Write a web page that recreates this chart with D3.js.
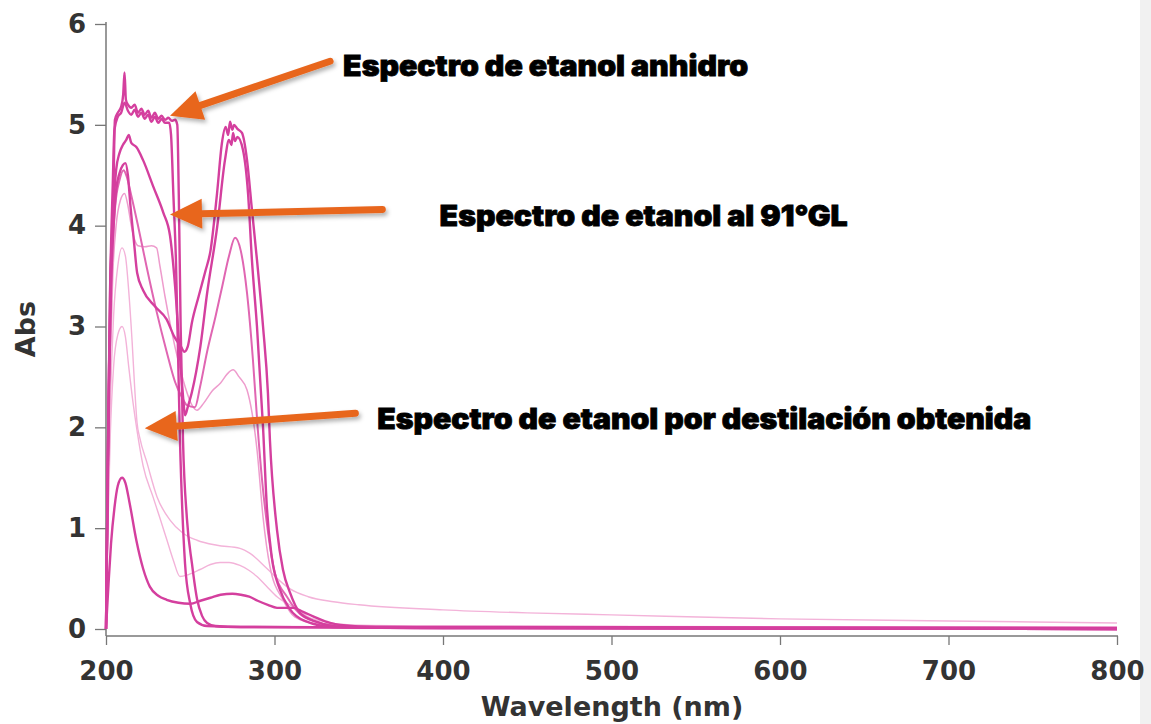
<!DOCTYPE html>
<html><head><meta charset="utf-8">
<script src="https://cdn.jsdelivr.net/npm/d3@7"></script>
<style>
html,body{margin:0;padding:0;background:#fff;}
svg{display:block;}
</style></head><body>
<svg id="chart" width="1151" height="724"></svg>
<script>
// ---------- data ----------
const xTicks = [200, 300, 400, 500, 600, 700, 800];
const yTicks = [0, 1, 2, 3, 4, 5, 6];
const xTitle = "Wavelength (nm)";
const yTitle = "Abs";

// [wavelength nm, absorbance]
const anhidroA = [[200,0],[201,1.6],[202.4,3.36],[204.2,4.15],[205.3,5.05],[207,5.12],[209,5.18],[210.2,5.3],[211,5.52],[211.8,5.25],[213,5.2],[215,5.17],[217,5.2],[219,5.12],[221,5.16],[223,5.1],[225,5.14],[227,5.07],[229,5.12],[231,5.06],[233,5.09],[235,5.05],[237,5.07],[239,5.04],[241,5.05],[242.3,5.0],[243.2,4.3],[244.3,3.0],[245.7,1.87],[248,1.1],[251,0.65],[254,0.3],[257,0.13],[260,0.06],[265,0.03],[280,0.02],[400,0.015],[800,0.0]];
const anhidroB = [[200,0],[201.2,1.8],[202.6,3.5],[204,4.4],[205,4.95],[207,5.08],[209,5.12],[211,5.22],[213,5.14],[215,5.1],[217,5.15],[219,5.08],[221,5.12],[223,5.06],[225,5.1],[227,5.03],[229,5.08],[231,5.02],[233,5.06],[235,5.02],[237.5,5.02],[238.6,4.9],[240,4.3],[241.5,3.66],[243.9,1.87],[246.9,0.65],[250,0.25],[254,0.07],[260,0.03],[280,0.02],[400,0.01],[800,0.0]];
const etanol91a = [[200,0],[200.8,1.2],[201.8,2.6],[203,3.6],[204.5,4.2],[206,4.55],[208,4.72],[210,4.8],[212,4.85],[213.5,4.9],[215,4.82],[218,4.78],[222,4.65],[228,4.39],[234,4.13],[238,3.9],[241,3.4],[243.5,2.8],[245.5,2.35],[247,2.12],[248.5,2.2],[251,2.35],[253.5,2.55],[256,2.8],[260,3.33],[266,3.99],[270.6,4.65],[273,4.85],[274.5,4.8],[275.4,4.92],[276.5,4.84],[278,4.88],[281.3,4.75],[284.3,4.32],[286.6,3.66],[289.6,3.0],[293.2,2.0],[295.5,1.2],[298.5,0.7],[303,0.4],[309,0.2],[318,0.08],[335,0.02],[400,0.01],[800,0.0]];
const etanol91b = [[200,0],[200.8,1.1],[201.8,2.4],[203,3.4],[204.5,4.0],[206,4.35],[208,4.52],[210,4.6],[211.5,4.62],[213,4.5],[214.5,4.2],[216.5,3.86],[218.5,3.53],[222,3.36],[229,3.2],[236,3.07],[240.5,2.9],[244.5,2.8],[246.5,2.75],[248.5,2.8],[251,3.04],[255,3.3],[259,3.55],[262,3.75],[265.9,4.32],[268.8,4.82],[271,4.98],[272.5,4.9],[273.6,5.03],[275,4.95],[276,5.0],[278,4.96],[280.7,4.92],[283.7,4.65],[286.6,4.16],[289.6,3.66],[293.2,3.0],[296.1,2.34],[297.3,1.87],[301.5,0.98],[305,0.59],[309.2,0.36],[315.1,0.16],[325.2,0.07],[340,0.02],[400,0.01],[800,0.0]];
const etanol91c = [[200,0],[201,1.3],[202,2.7],[203.5,3.6],[205.5,4.2],[208,4.45],[210.5,4.55],[212,4.5],[215,4.3],[219,4.0],[224,3.6],[230,3.15],[236,2.75],[241,2.45],[245,2.3],[248,2.22],[252.8,2.2],[255.8,2.4],[260,2.75],[265,3.1],[269,3.4],[273,3.7],[276.6,3.88],[280,3.75],[283.7,3.33],[287.2,2.67],[290,2.0],[292.6,1.48],[296,0.98],[300.3,0.55],[307.4,0.32],[315,0.15],[325,0.07],[340,0.03],[400,0.02],[800,0.01]];
const destilA = [[200,0],[201,1.2],[202.5,2.6],[204,3.5],[206,4.0],[208.5,4.25],[211,4.32],[213,4.2],[215,4.0],[217,3.86],[219,3.8],[223,3.79],[227,3.8],[230,3.78],[232,3.6],[235,3.3],[239,2.95],[243,2.65],[247,2.4],[251,2.22],[254,2.17],[258,2.24],[263,2.36],[268,2.44],[272,2.53],[275.4,2.57],[279,2.5],[283.7,2.37],[289.6,1.78],[293.2,1.11],[297.3,0.62],[305,0.29],[312,0.12],[325,0.05],[345,0.03],[400,0.02],[800,0.01]];
const destilB = [[200,0],[201,1.0],[202.5,2.2],[204.5,3.1],[207,3.6],[209.5,3.78],[211.5,3.7],[213.5,3.35],[215.5,2.85],[217,2.4],[218.4,2.05],[220,1.9],[224.3,1.65],[230.3,1.31],[238,1.08],[245.7,0.95],[254,0.88],[265.9,0.83],[279.5,0.8],[285.5,0.75],[295.5,0.6],[303,0.48],[309,0.4],[320,0.32],[335,0.27],[350,0.24],[400,0.19],[450,0.16],[500,0.14],[600,0.1],[700,0.08],[800,0.06]];
const destilC = [[200,0],[201,0.9],[202.5,1.9],[204.5,2.6],[207,2.92],[209.5,3.0],[211.5,2.9],[213.5,2.6],[216,2.25],[218.4,1.97],[222,1.62],[227.9,1.31],[232,1.1],[236.2,0.88],[240,0.68],[243.9,0.52],[249,0.54],[255.8,0.59],[262,0.64],[267.7,0.66],[273,0.66],[279.5,0.63],[285,0.58],[289.6,0.52],[295,0.43],[301.5,0.32],[311,0.22],[320,0.12],[330,0.07],[345,0.04],[400,0.03],[800,0.02]];
const destilD = [[200,0],[201.5,0.45],[203,0.85],[205,1.2],[207,1.42],[209.5,1.5],[211.5,1.45],[214,1.25],[218,0.88],[222,0.6],[226,0.42],[231,0.33],[236,0.29],[243,0.26],[250,0.25],[256,0.28],[262,0.31],[268,0.34],[275,0.35],[280,0.34],[285,0.32],[290,0.28],[296,0.24],[301.5,0.21],[307,0.21],[311,0.21],[317,0.17],[325,0.11],[333,0.06],[339,0.04],[360,0.02],[400,0.02],[800,0.01]];

const seriesList = [
  {name:"destilB", data:destilB, tone:"pale"},
  {name:"destilC", data:destilC, tone:"pale"},
  {name:"destilA", data:destilA, tone:"light"},
  {name:"etanol91c", data:etanol91c, tone:"medium"},
  {name:"destilD", data:destilD, tone:"dark"},
  {name:"etanol91a", data:etanol91a, tone:"dark"},
  {name:"etanol91b", data:etanol91b, tone:"dark"},
  {name:"anhidroB", data:anhidroB, tone:"dark"},
  {name:"anhidroA", data:anhidroA, tone:"dark"}
];

// annotations: text, text anchor (nm, Abs), arrow tail and tip (nm, Abs)
const annotations = [
  {text:"Espectro de etanol anhidro", at:[340.7,5.48], tail:[333,5.63], tip:[238,5.09], len:405},
  {text:"Espectro de etanol al 91°GL", at:[398,4.0], tail:[364,4.16], tip:[238,4.11], len:408},
  {text:"Espectro de etanol por destilación obtenida", at:[361,1.98], tail:[348,2.14], tip:[223,1.99], len:654}
];

// ---------- styles ----------
const toneStyle = {
  pale:   {stroke:"#f3b3d9", width:1.4},
  light:  {stroke:"#ee9ccd", width:1.5},
  medium: {stroke:"#e066b2", width:2.0},
  dark:   {stroke:"#d43f9e", width:2.4}
};

const svg = d3.select("#chart");
const x = d3.scaleLinear().domain([200, 800]).range([106, 1117]);
const y = d3.scaleLinear().domain([0, 6]).range([629, 24]);
const axisY = 636;

// scan edge strip
svg.append("rect").attr("x",1140).attr("y",0).attr("width",11).attr("height",724).attr("fill","#f1f1f1");

const defs = svg.append("defs");
const f = defs.append("filter").attr("id","shadow").attr("x","-20%").attr("y","-50%").attr("width","140%").attr("height","200%");
f.append("feDropShadow").attr("dx",2).attr("dy",3).attr("stdDeviation",2).attr("flood-color","#000").attr("flood-opacity",0.3);

// axes
const axisFont = "'DejaVu Sans', sans-serif";
const xAxis = svg.append("g").attr("transform",`translate(0,${axisY})`)
  .call(d3.axisBottom(x).tickValues(xTicks).tickSize(9).tickPadding(17).tickSizeOuter(0).tickFormat(d3.format("d")));
xAxis.select(".domain").remove();
xAxis.selectAll(".tick line").attr("stroke","#777").attr("stroke-width",1.3);
xAxis.selectAll(".tick text").attr("font-family",axisFont).attr("font-weight","bold").attr("font-size",26).attr("fill","#333");

const yAxis = svg.append("g").attr("transform",`translate(106,0)`)
  .call(d3.axisLeft(y).tickValues(yTicks).tickSize(11).tickPadding(9).tickSizeOuter(0).tickFormat(d3.format("d")));
yAxis.select(".domain").remove();
yAxis.selectAll(".tick line").attr("stroke","#777").attr("stroke-width",1.3);
yAxis.selectAll(".tick text").attr("font-family",axisFont).attr("font-weight","bold").attr("font-size",26).attr("fill","#333");

svg.append("line").attr("x1",106).attr("x2",106).attr("y1",22).attr("y2",axisY).attr("stroke","#777").attr("stroke-width",1.5);
svg.append("line").attr("x1",106).attr("x2",x(800)+1).attr("y1",axisY).attr("y2",axisY).attr("stroke","#777").attr("stroke-width",1.5);

svg.append("text").attr("transform","translate(35,329) rotate(-90)").attr("text-anchor","middle")
  .attr("font-family",axisFont).attr("font-weight","bold").attr("font-size",27).attr("fill","#333").text(yTitle);
svg.append("text").attr("x",612).attr("y",716).attr("text-anchor","middle")
  .attr("font-family",axisFont).attr("font-weight","bold").attr("font-size",27).attr("fill","#333").text(xTitle);

// spectra
const line = d3.line().x(d=>x(d[0])).y(d=>y(d[1])).curve(d3.curveMonotoneX);
svg.append("g").selectAll("path").data(seriesList).join("path")
  .attr("d", d=>line(d.data))
  .attr("fill","none")
  .attr("stroke", d=>toneStyle[d.tone].stroke)
  .attr("stroke-width", d=>toneStyle[d.tone].width)
  .attr("stroke-linejoin","round");

// annotations
const ann = svg.append("g");
annotations.forEach(a=>{
  const x1=x(a.tail[0]), y1=y(a.tail[1]), x2=x(a.tip[0]), y2=y(a.tip[1]);
  const dx=x2-x1, dy=y2-y1, L=Math.hypot(dx,dy), ux=dx/L, uy=dy/L;
  const hl=32, hw=15;
  const bx=x2-ux*hl, by=y2-uy*hl;
  const g = ann.append("g").attr("filter","url(#shadow)");
  g.append("line").attr("x1",x1).attr("y1",y1).attr("x2",bx+ux*2).attr("y2",by+uy*2)
    .attr("stroke","#e8661f").attr("stroke-width",7).attr("stroke-linecap","round");
  g.append("path").attr("d",`M${x2},${y2}L${bx-uy*hw},${by+ux*hw}L${bx+uy*hw},${by-ux*hw}Z`).attr("fill","#e8661f");
  ann.append("text").attr("x",x(a.at[0])).attr("y",y(a.at[1]))
    .attr("font-family","Inter, Lato, sans-serif").attr("font-weight",900).attr("font-size",28)
    .attr("fill","#000").attr("stroke","#000").attr("stroke-width",0.8)
    .attr("textLength",a.len).attr("lengthAdjust","spacingAndGlyphs").text(a.text);
});
</script>
</body></html>
